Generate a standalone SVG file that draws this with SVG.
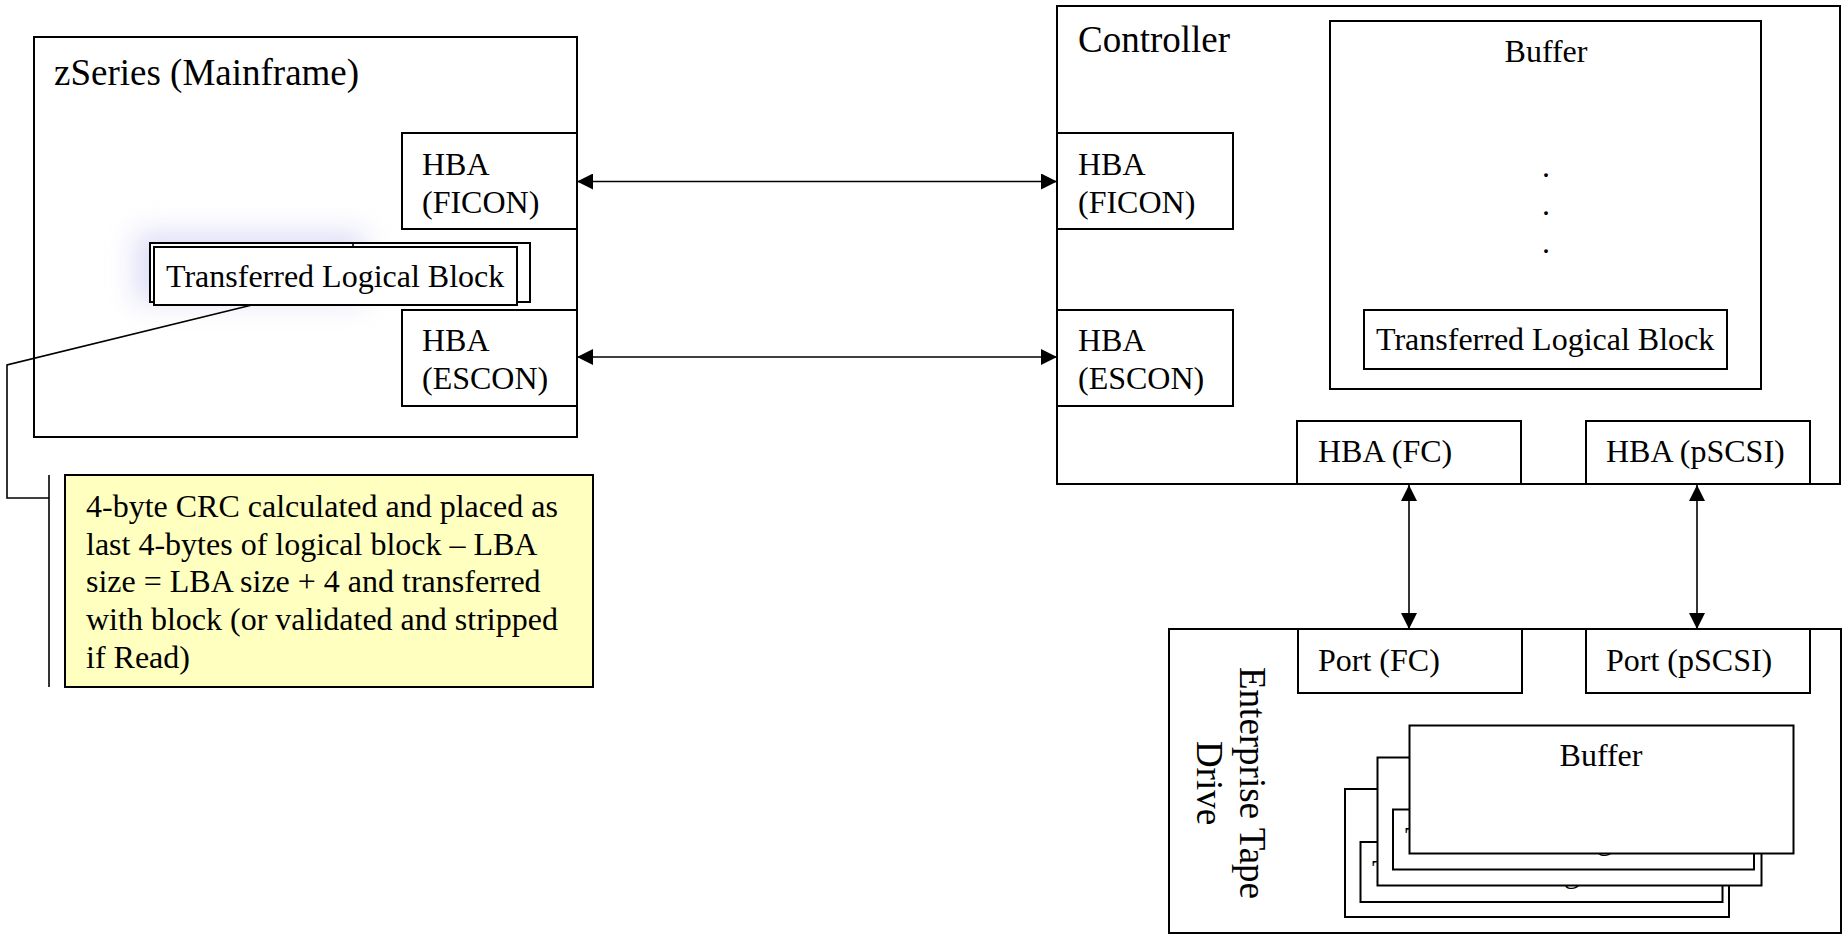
<svg xmlns="http://www.w3.org/2000/svg" width="1847" height="934" viewBox="0 0 1847 934">
<defs>
<style>
.box{fill:#fff;stroke:#000;stroke-width:2}
.frame{fill:none;stroke:#000;stroke-width:2}
.t{font-family:"Liberation Serif","Times New Roman",serif;font-size:32px;fill:#000}
.big{font-family:"Liberation Serif","Times New Roman",serif;font-size:37px;fill:#000}
.ln{fill:none;stroke:#000;stroke-width:1.6}
.note{fill:#ffffc0;stroke:#000;stroke-width:2}
</style>
<marker id="ah" viewBox="0 0 16 16" refX="16" refY="8" markerWidth="16" markerHeight="16" markerUnits="userSpaceOnUse" orient="auto-start-reverse">
<path d="M0,0 L16,8 L0,16 Z" fill="#000"/>
</marker>
<filter id="glow" x="-50%" y="-50%" width="200%" height="200%">
<feGaussianBlur stdDeviation="14"/>
</filter>
</defs>
<rect width="1847" height="934" fill="#fff"/>

<g id="zseries">
<rect class="frame" x="34" y="37" width="543" height="400"/>
<text class="big" x="54" y="85">zSeries (Mainframe)</text>
</g>
<g id="z-hba-ficon">
<rect class="box" x="402" y="133" width="175" height="96"/>
<text class="t" x="422" y="175">HBA</text>
<text class="t" x="422" y="213">(FICON)</text>
</g>
<g id="z-hba-escon">
<rect class="box" x="402" y="310" width="175" height="96"/>
<text class="t" x="422" y="351">HBA</text>
<text class="t" x="422" y="389">(ESCON)</text>
</g>
<g id="z-tlb">
<rect x="135" y="232" width="230" height="70" fill="#c8c8f0" opacity="0.6" filter="url(#glow)"/>
<rect class="box" x="150" y="243" width="380" height="59"/>
<line class="ln" x1="353" y1="243" x2="353" y2="247"/>
<rect class="box" x="154" y="247" width="363" height="58"/>
<text class="t" x="166" y="287">Transferred Logical Block</text>
</g>

<g id="note">
<rect class="note" x="65" y="475" width="528" height="212"/>
<text class="t" x="86" y="517">4-byte CRC calculated and placed as</text>
<text class="t" x="86" y="555">last 4-bytes of logical block – LBA</text>
<text class="t" x="86" y="592">size = LBA size + 4 and transferred</text>
<text class="t" x="86" y="630">with block (or validated and stripped</text>
<text class="t" x="86" y="668">if Read)</text>
</g>

<g id="controller">
<rect class="frame" x="1057" y="6" width="783" height="478"/>
<text class="big" x="1078" y="52">Controller</text>
</g>
<g id="c-buffer">
<rect class="box" x="1330" y="21" width="431" height="368"/>
<text class="t" x="1546" y="62" text-anchor="middle">Buffer</text>
<text class="t" x="1546" y="177" text-anchor="middle">.</text>
<text class="t" x="1546" y="215" text-anchor="middle">.</text>
<text class="t" x="1546" y="253" text-anchor="middle">.</text>
</g>
<g id="c-tlb">
<rect class="box" x="1364" y="310" width="363" height="59"/>
<text class="t" x="1376" y="350">Transferred Logical Block</text>
</g>
<g id="c-hba-ficon">
<rect class="box" x="1057" y="133" width="176" height="96"/>
<text class="t" x="1078" y="175">HBA</text>
<text class="t" x="1078" y="213">(FICON)</text>
</g>
<g id="c-hba-escon">
<rect class="box" x="1057" y="310" width="176" height="96"/>
<text class="t" x="1078" y="351">HBA</text>
<text class="t" x="1078" y="389">(ESCON)</text>
</g>
<g id="c-hba-fc">
<rect class="box" x="1297" y="421" width="224" height="63"/>
<text class="t" x="1318" y="462">HBA (FC)</text>
</g>
<g id="c-hba-pscsi">
<rect class="box" x="1586" y="421" width="224" height="63"/>
<text class="t" x="1606" y="462">HBA (pSCSI)</text>
</g>

<g id="tape-drive">
<rect class="frame" x="1169" y="629" width="672" height="304"/>
<g transform="translate(1240,783) rotate(90)">
<text class="big" x="0" y="0" text-anchor="middle">Enterprise Tape</text>
<text class="big" x="0" y="43" text-anchor="middle">Drive</text>
</g>
</g>
<g id="t-port-fc">
<rect class="box" x="1298" y="629" width="224" height="64"/>
<text class="t" x="1318" y="671">Port (FC)</text>
</g>
<g id="t-port-pscsi">
<rect class="box" x="1586" y="629" width="224" height="64"/>
<text class="t" x="1606" y="671">Port (pSCSI)</text>
</g>
<g id="t-buffers">
<rect class="box" x="1345" y="789" width="384" height="128"/>
<rect class="box" x="1360.5" y="842" width="362" height="60"/>
<text class="t" x="1372" y="882">Transferred Logical Block</text>
<rect class="box" x="1377.5" y="757.5" width="384" height="128"/>
<rect class="box" x="1393" y="809.5" width="361" height="60"/>
<text class="t" x="1405" y="849">Transferred Logical Block</text>
<rect class="box" x="1409.5" y="725.5" width="384" height="128"/>
<text class="t" x="1601" y="766" text-anchor="middle">Buffer</text>
</g>

<g id="connectors">
<line class="ln" x1="577" y1="181.5" x2="1057" y2="181.5" marker-start="url(#ah)" marker-end="url(#ah)"/>
<line class="ln" x1="577" y1="357" x2="1057" y2="357" marker-start="url(#ah)" marker-end="url(#ah)"/>
<line class="ln" x1="1409" y1="485" x2="1409" y2="629" marker-start="url(#ah)" marker-end="url(#ah)"/>
<line class="ln" x1="1697" y1="485" x2="1697" y2="629" marker-start="url(#ah)" marker-end="url(#ah)"/>
<polyline class="ln" points="252,305 7,365 7,498 49,498"/>
<line class="ln" x1="49" y1="475" x2="49" y2="687"/>
</g>
</svg>
